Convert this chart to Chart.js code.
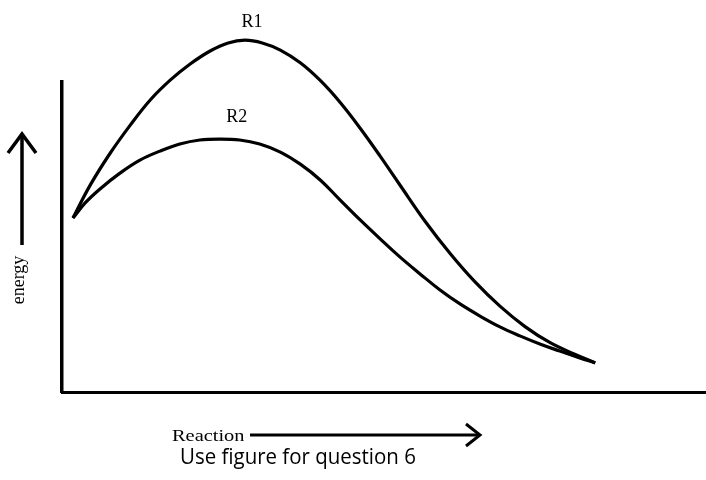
<!DOCTYPE html>
<html>
<head>
<meta charset="utf-8">
<script src="https://cdn.jsdelivr.net/npm/chart.js@4.4.1/dist/chart.umd.min.js"></script>
<style>
html,body{margin:0;padding:0;background:#fff;}
#wrap{position:relative;width:706px;height:480px;}
canvas{display:block;}
</style>
</head>
<body>
<div id="wrap"><canvas id="c" width="706" height="480"></canvas></div>
<script>
// Reaction coordinate (0-100) and energy (0-100, top of the drawn axis = 100)
const r1X = [1.7, 4.4, 7.5, 10.6, 13.7, 16.8, 19.9, 23.0, 25.8, 28.4, 31.1, 33.9, 37.0, 40.1, 43.2, 46.3, 49.4, 52.5, 56.4, 60.3, 64.1, 68.0, 71.9, 75.8, 79.7, 82.8];
const r1Y = [56.1, 66.8, 77.1, 86.1, 94.2, 100.6, 105.8, 110.0, 112.6, 113.5, 112.6, 110.3, 106.2, 100.5, 93.4, 85.1, 76.1, 66.7, 55.0, 44.6, 35.6, 27.7, 21.1, 15.9, 12.1, 9.4];
const r2X = [1.7, 3.6, 5.9, 9.0, 12.1, 15.2, 18.3, 21.4, 24.5, 27.6, 30.7, 33.9, 37.0, 40.1, 43.2, 46.3, 49.4, 52.5, 55.6, 58.7, 61.8, 64.9, 68.0, 71.1, 74.2, 77.3, 80.4, 82.8];
const r2Y = [56.1, 61.0, 65.5, 70.6, 74.8, 77.7, 80.0, 81.3, 81.6, 81.3, 80.0, 77.4, 73.5, 68.4, 61.9, 55.5, 49.4, 43.5, 38.1, 32.9, 28.4, 24.5, 21.0, 18.1, 15.5, 13.2, 11.0, 9.4];
const seriesNames = ["R1", "R2"];
const yTitle = "energy";
const xTitle = "Reaction";
const caption = "Use figure for question 6";

const toPts = (xs, ys) => xs.map((x, i) => ({x: x, y: ys[i]}));

function peak(xs, ys) {
  let k = 0;
  ys.forEach((v, i) => { if (v > ys[k]) k = i; });
  return {x: xs[k], y: ys[k]};
}

const textPlugin = {
  id: 'texts',
  afterDraw(chart) {
    const ctx = chart.ctx;
    const xs = chart.scales.x, ys = chart.scales.y;
    ctx.save();
    ctx.fillStyle = '#000';
    ctx.strokeStyle = '#000';
    const serif = '"Liberation Serif", "DejaVu Serif", serif';
    // series labels above peaks
    const peaks = [peak(r1X, r1Y), peak(r2X, r2Y)];
    const lblOff = [[7, 13], [17, 17]];
    ctx.font = '18px ' + serif;
    ctx.textAlign = 'center';
    ctx.textBaseline = 'alphabetic';
    seriesNames.forEach((n, i) => {
      const px = xs.getPixelForValue(peaks[i].x) + lblOff[i][0];
      const py = ys.getPixelForValue(peaks[i].y) - lblOff[i][1];
      ctx.fillText(n, px, py);
    });
    // y title (rotated)
    ctx.save();
    ctx.translate(24, 280);
    ctx.rotate(-Math.PI / 2);
    ctx.font = '18px ' + serif;
    ctx.textAlign = 'center';
    ctx.fillText(yTitle, 0, 0);
    ctx.restore();
    // y arrow
    ctx.lineWidth = 3.5;
    ctx.lineCap = 'butt';
    ctx.beginPath();
    ctx.moveTo(22, 245); ctx.lineTo(22, 134);
    ctx.stroke();
    ctx.beginPath();
    ctx.moveTo(8, 153); ctx.lineTo(22, 134); ctx.lineTo(36, 153);
    ctx.stroke();
    // x title + arrow
    ctx.save();
    ctx.translate(172, 441);
    ctx.scale(1.2, 1);
    ctx.font = '17px ' + serif;
    ctx.textAlign = 'left';
    ctx.fillText(xTitle, 0, 0);
    ctx.restore();
    ctx.lineWidth = 3;
    ctx.beginPath();
    ctx.moveTo(250, 435); ctx.lineTo(478, 435);
    ctx.stroke();
    ctx.beginPath();
    ctx.moveTo(466, 424); ctx.lineTo(480, 435); ctx.lineTo(466, 446);
    ctx.stroke();
    // caption
    ctx.save();
    ctx.translate(180, 464);
    ctx.scale(0.93, 1);
    ctx.font = '22px "Open Sans", "Liberation Sans", sans-serif';
    ctx.textAlign = 'left';
    ctx.fillText(caption, 0, 0);
    ctx.restore();
    ctx.restore();
  }
};

new Chart(document.getElementById('c'), {
  type: 'scatter',
  data: {
    datasets: [
      {label: seriesNames[0], data: toPts(r1X, r1Y), showLine: true, borderColor: '#000', borderWidth: 3.2, pointRadius: 0, fill: false, tension: 0.4, clip: false},
      {label: seriesNames[1], data: toPts(r2X, r2Y), showLine: true, borderColor: '#000', borderWidth: 3.2, pointRadius: 0, fill: false, tension: 0.4, clip: false}
    ]
  },
  options: {
    responsive: false,
    animation: false,
    layout: {padding: {left: 62, top: 82, right: 0, bottom: 88}},
    plugins: {legend: {display: false}, tooltip: {enabled: false}},
    scales: {
      x: {type: 'linear', min: 0, max: 100, grid: {display: false, drawTicks: false},
          ticks: {display: false}, border: {display: true, color: '#000', width: 3},
          afterFit: a => { a.height = 0; }},
      y: {type: 'linear', min: 0, max: 100, grid: {display: false, drawTicks: false},
          ticks: {display: false}, border: {display: true, color: '#000', width: 3.5},
          afterFit: a => { a.width = 0; }}
    }
  },
  plugins: [textPlugin]
});
</script>
</body>
</html>
